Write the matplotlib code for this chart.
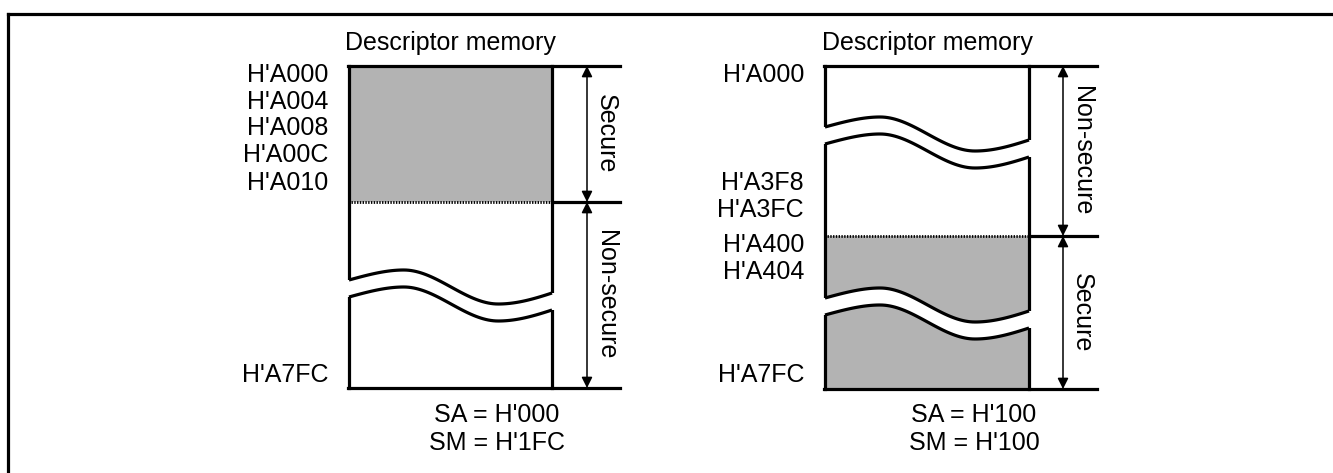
import numpy as np
import matplotlib
matplotlib.use("Agg")
import matplotlib.pyplot as plt
from matplotlib.patches import Polygon

plt.rcParams['font.family'] = ['Liberation Sans', 'DejaVu Sans']

# addresses shown next to each descriptor memory map
left_addrs = ["H'A000", "H'A004", "H'A008", "H'A00C", "H'A010", "H'A7FC"]
left_addr_y = [75, 102, 128, 155, 183, 375]
right_addrs = ["H'A000", "H'A3F8", "H'A3FC", "H'A400", "H'A404", "H'A7FC"]
right_addr_y = [75, 183, 210, 245, 272, 375]

left_regions = ["Secure", "Non-secure"]
right_regions = ["Non-secure", "Secure"]
left_regs = ["SA = H'000", "SM = H'1FC"]
right_regs = ["SA = H'100", "SM = H'100"]

GREY = '#b3b3b3'
LW = 2.3
FS = 18


def bez(p0, p1, p2, p3, n=40):
    t = np.linspace(0, 1, n)[:, None]
    p0, p1, p2, p3 = map(np.array, (p0, p1, p2, p3))
    return (1-t)**3*p0 + 3*(1-t)**2*t*p1 + 3*(1-t)*t**2*p2 + t**3*p3


def wave(x0, x1, y0):
    # wavy break line across the box, y0 = y at left edge
    segs = [
        ((0, 0), (0.09, -5), (0.18, -10), (0.27, -10)),
        ((0.27, -10), (0.43, -10), (0.575, 24), (0.735, 24)),
        ((0.735, 24), (0.825, 24), (0.91, 19), (1.0, 13)),
    ]
    pts = np.vstack([bez(*s) for s in segs])
    w = x1 - x0
    return x0 + pts[:, 0]*w, y0 + pts[:, 1]


def draw_break(ax, x0, x1, y0, gap=17):
    xu, yu = wave(x0, x1, y0)
    xl, yl = wave(x0, x1, y0 + gap)
    xs = np.concatenate([[x0-3], xu, [x1+3], [x1+3], xl[::-1], [x0-3]])
    ys = np.concatenate([[yu[0]], yu, [yu[-1]], [yl[-1]], yl[::-1], [yl[0]]])
    ax.add_patch(Polygon(np.column_stack([xs, ys]), closed=True, fc='white', ec='none', zorder=3))
    ax.plot(xu, yu, color='black', lw=LW, zorder=4, solid_capstyle='butt')
    ax.plot(xl, yl, color='black', lw=LW, zorder=4, solid_capstyle='butt')


def dbl_arrow(ax, x, ya, yb):
    ax.annotate('', xy=(x, yb), xytext=(x, ya),
                arrowprops=dict(arrowstyle='<|-|>', color='black', lw=1.1,
                                mutation_scale=16, shrinkA=0, shrinkB=0), zorder=5)


def draw_map(ax, bx0, bx1, top, mid, bot, ext, arx, grey_top, breaks,
             addrs, addr_y, regions, regs):
    if grey_top:
        ax.add_patch(plt.Rectangle((bx0, top), bx1-bx0, mid-top, fc=GREY, ec='none', zorder=1))
    else:
        ax.add_patch(plt.Rectangle((bx0, mid), bx1-bx0, bot-mid, fc=GREY, ec='none', zorder=1))
    # box outline
    ax.plot([bx0, bx0], [top, bot], color='black', lw=LW, zorder=2)
    ax.plot([bx1, bx1], [top, bot], color='black', lw=LW, zorder=2)
    ax.plot([bx0-1, ext], [top, top], color='black', lw=LW, zorder=6)
    ax.plot([bx0-1, ext], [bot, bot], color='black', lw=LW, zorder=6)
    ax.plot([bx1, ext], [mid, mid], color='black', lw=LW, zorder=6)
    ax.plot([bx0+2, bx1-1], [mid, mid], color='black', lw=2.0, ls=(0, (0.5, 0.5)), zorder=6)
    for yb in breaks:
        draw_break(ax, bx0, bx1, yb)
    dbl_arrow(ax, arx, top, mid)
    dbl_arrow(ax, arx, mid, bot)
    tx = arx + 19
    ax.text(tx, (top+mid)/2, regions[0], rotation=-90, ha='center', va='center', fontsize=FS)
    ax.text(tx, (mid+bot)/2, regions[1], rotation=-90, ha='center', va='center', fontsize=FS)
    for a, y in zip(addrs, addr_y):
        ax.text(bx0-21, y, a, ha='right', va='center', fontsize=FS)
    cx = (bx0+bx1)/2
    ax.text(cx, 43, 'Descriptor memory', ha='center', va='center', fontsize=FS)
    rx = bx1 - 55
    ax.text(rx, 415, regs[0], ha='center', va='center', fontsize=FS)
    ax.text(rx, 443, regs[1], ha='center', va='center', fontsize=FS)


fig = plt.figure(figsize=(13.33, 4.73), dpi=100)
ax = fig.add_axes([0, 0, 1, 1])
ax.set_xlim(0, 1333)
ax.set_ylim(473, 0)
ax.axis('off')

# outer frame (only top and left visible)
ax.plot([8, 8], [473, 14], color='black', lw=LW, solid_capstyle='projecting')
ax.plot([8, 1333], [14, 14], color='black', lw=LW, solid_capstyle='projecting')

draw_map(ax, 349, 552, 66, 202, 388, 620, 587, True, [280],
         left_addrs, left_addr_y, left_regions, left_regs)
draw_map(ax, 825, 1029, 66, 236, 389, 1097, 1063, False, [127, 298],
         right_addrs, right_addr_y, right_regions, right_regs)

fig.savefig('out.png', dpi=100)
